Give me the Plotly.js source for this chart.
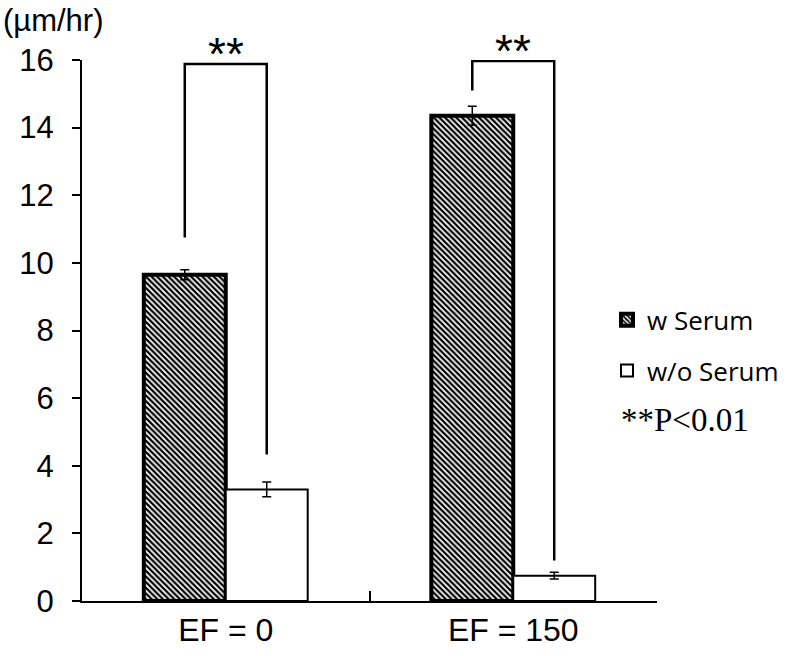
<!DOCTYPE html>
<html>
<head>
<meta charset="utf-8">
<script src="https://cdn.plot.ly/plotly-3.0.1.min.js"></script>
<style>html,body{margin:0;padding:0;background:#fff;}#chart{width:800px;height:656px;}</style>
</head>
<body>
<div id="chart"></div>
<script>
// ---- data ----
const categories = ["EF = 0", "EF = 150"];
const seriesNames = ["w Serum", "w/o Serum"];
const withSerum = [9.65, 14.35];
const withSerumErr = [0.15, 0.28];
const withoutSerum = [3.3, 0.75];
const withoutSerumErr = [0.22, 0.1];
const yTicks = [0, 2, 4, 6, 8, 10, 12, 14, 16];
const sigLabel = ["**", "**"];
const bracketTop = [15.88, 15.97];
const bracketLeftEnd = [10.75, 15.1];
const bracketRightEnd = [4.33, 1.2];
const unitLabel = "(µm/hr)";
const noteLabel = "**P<0.01";

// ---- layout params ----
const bargap = 0.43;
const barW = (1 - bargap) / 2;

const traces = [
  {
    type: "bar", name: seriesNames[0], x: categories, y: withSerum,
    legendgroup: "a",
    error_y: {type: "data", array: withSerumErr, visible: true, color: "#000", thickness: 1.5, width: 4.5},
    marker: {color: "#fff", line: {color: "#000", width: 4},
      pattern: {shape: "\\", fgcolor: "#000", bgcolor: "#fff", size: 4, solidity: 0.55}}
  },
  {
    type: "bar", name: seriesNames[1], x: categories, y: withoutSerum,
    legendgroup: "b",
    error_y: {type: "data", array: withoutSerumErr, visible: true, color: "#000", thickness: 1.5, width: 4.5},
    marker: {color: "#fff", line: {color: "#000", width: 2}}
  }
];

// significance brackets
const shapes = [];
const annotations = [];
categories.forEach((c, i) => {
  const xl = i - barW / 2, xr = i + barW / 2;
  shapes.push({type: "path", xref: "x", yref: "y",
    path: `M ${xl},${bracketLeftEnd[i]} L ${xl},${bracketTop[i]} L ${xr},${bracketTop[i]} L ${xr},${bracketRightEnd[i]}`,
    line: {color: "#000", width: 2.5}});
  annotations.push({xref: "x", yref: "y", x: i, y: bracketTop[i], yanchor: "bottom", yshift: -18,
    text: sigLabel[i], showarrow: false,
    font: {family: "Liberation Sans, Arial", size: 46, color: "#000"}});
});
annotations.push({xref: "paper", yref: "paper", x: -0.141, y: 1.109, xanchor: "left", yanchor: "top",
  text: unitLabel, showarrow: false, font: {family: "Liberation Sans, Arial", size: 31, color: "#000"}});
annotations.push({xref: "paper", yref: "paper", x: 0.934, y: 0.335, xanchor: "left", yanchor: "middle",
  text: noteLabel, showarrow: false, font: {family: "Liberation Serif, Times New Roman", size: 33, color: "#000"}});

const layout = {
  width: 800, height: 656,
  margin: {l: 82, r: 143, t: 60, b: 55},
  paper_bgcolor: "#fff", plot_bgcolor: "#fff",
  barmode: "group", bargap: bargap, bargroupgap: 0,
  showlegend: true,
  legend: {x: 0.913, y: 0.563, xanchor: "left", yanchor: "top", tracegroupgap: 14,
    font: {family: "Open Sans, Noto Sans", size: 26, color: "#000"}, bgcolor: "rgba(0,0,0,0)"},
  xaxis: {type: "category", showline: true, linecolor: "#000", linewidth: 2,
    ticks: "inside", tickson: "boundaries", ticklen: 10, tickwidth: 2, tickcolor: "#000",
    showgrid: false, zeroline: false,
    tickfont: {family: "Liberation Sans, Arial", size: 32, color: "#000"}},
  yaxis: {range: [0, 16], tickvals: yTicks, showline: true, linecolor: "#000", linewidth: 2,
    ticks: "outside", ticklen: 8, tickwidth: 2, tickcolor: "#000", ticklabelstandoff: 12,
    showgrid: false, zeroline: false,
    tickfont: {family: "Liberation Sans, Arial", size: 31, color: "#000"}},
  shapes: shapes, annotations: annotations
};

Plotly.newPlot("chart", traces, layout, {displayModeBar: false, staticPlot: true});
</script>
</body>
</html>
